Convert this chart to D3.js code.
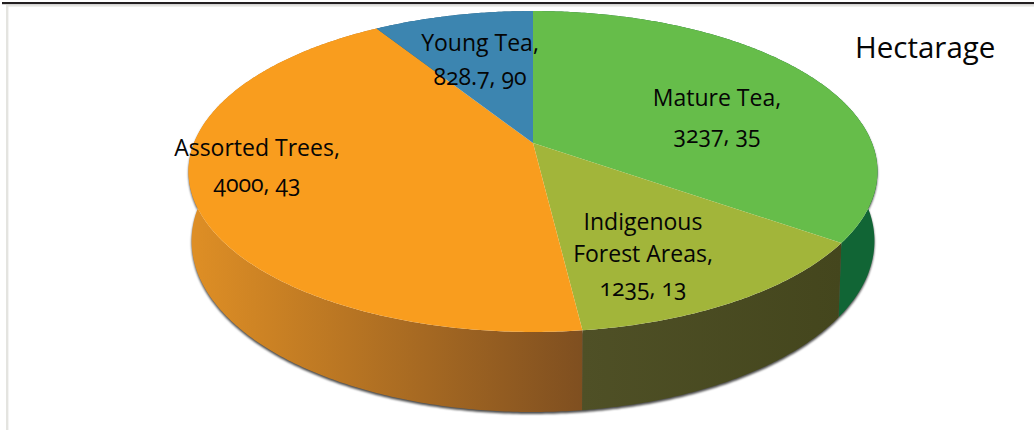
<!DOCTYPE html>
<html>
<head>
<meta charset="utf-8">
<script src="https://cdn.jsdelivr.net/npm/d3@7"></script>
<style>
  html, body { margin: 0; padding: 0; background: #fff; }
  text { font-family: "Open Sans", "Noto Sans", sans-serif; fill: #050505; font-feature-settings: "onum"; }
</style>
</head>
<body>
<div id="chart"></div>
<script>
// values as printed on the slices (the 90 on Young Tea is what the picture says)
const categories = ["Mature Tea", "Indigenous Forest Areas", "Assorted Trees", "Young Tea"];
const hectares = [3237, 1235, 4000, 828.7];
const printedPercents = [35, 13, 43, 90];
const title = "Hectarage";

const topColors = ["#66bd4a", "#a2b53a", "#f99d1e", "#3c85b0"];
const wallLeftColors = ["#116535", "#4f5026", "#df8f25", "#2a5f80"];
const wallRightColors = ["#116535", "#44461d", "#7f4f20", "#2a5f80"];

const width = 1034, height = 430;

const svg = d3.select("#chart").append("svg")
    .attr("width", width)
    .attr("height", height)
    .style("display", "block");

// frame left over from the original slide
svg.append("rect").attr("x", 2).attr("y", 2).attr("width", width - 2).attr("height", 2.2).attr("fill", "#231f20");
svg.append("rect").attr("x", 6).attr("y", 5).attr("width", width - 6).attr("height", 1.6).attr("fill", "#e4e4e0");
svg.append("rect").attr("x", 6).attr("y", 5).attr("width", 2.4).attr("height", height - 5).attr("fill", "#e4e4e0");

// 1) Scales: top disc and the disc at the foot of the wall
const perspective = 0.1776;
const topX = d3.scaleLinear().domain([-1, 1]).range([194, 872]);
const topY = d3.scaleLinear().domain([-1, 1]).range([298.4, -12.4]);
const footX = d3.scaleLinear().domain([-1, 1]).range([197, 869]);
const footY = d3.scaleLinear().domain([-1, 1]).range([376.2, 44.8]);

const color = d3.scaleOrdinal().domain(categories).range(topColors);

// angle is clockwise from 12 o'clock, far side of the disc is tilted away
function project(angle, r, sx, sy) {
    const u = Math.sin(angle) * r;
    const v = Math.cos(angle) * r;
    const w = 1 + perspective * v;
    return [sx(u / w), sy(v / w)];
}

const pie = d3.pie().sort(null).value(d => d.value);
const slices = pie(categories.map((name, i) => ({ name, value: hectares[i], index: i })));

function rimAngles(d) {
    const n = Math.max(2, Math.ceil((d.endAngle - d.startAngle) / 0.01));
    return d3.range(n + 1).map(i => d.startAngle + (d.endAngle - d.startAngle) * i / n);
}

const line = d3.line();

// 2) Gradients for the wall shading
const defs = svg.append("defs");
slices.forEach(d => {
    const grad = defs.append("linearGradient").attr("id", "wall-" + d.data.index);
    grad.append("stop").attr("offset", "0%").attr("stop-color", wallLeftColors[d.data.index]);
    grad.append("stop").attr("offset", "100%").attr("stop-color", wallRightColors[d.data.index]);
});

// 3) Walls, with a thin shadow round the foot
const walls = svg.append("g")
    .style("filter", "drop-shadow(0px 2px 1.2px rgba(0,0,0,0.7))");

walls.selectAll("path")
    .data(slices)
    .enter()
    .append("path")
    .attr("fill", d => `url(#wall-${d.data.index})`)
    .attr("d", d => {
        const angles = rimAngles(d);
        const upper = angles.map(a => project(a, 1, topX, topY));
        const lower = angles.slice().reverse().map(a => project(a, 1, footX, footY));
        return line(upper.concat(lower)) + "Z";
    });

// 4) Top face
svg.append("g").selectAll("path")
    .data(slices)
    .enter()
    .append("path")
    .attr("fill", d => color(d.data.name))
    .attr("d", d => {
        const rim = rimAngles(d).map(a => project(a, 1, topX, topY));
        return line([project(0, 0, topX, topY)].concat(rim)) + "Z";
    });

// 5) Labels
const labelLines = [
    ["Mature Tea,", `${hectares[0]}, ${printedPercents[0]}`],
    ["Indigenous", "Forest Areas,", `${hectares[1]}, ${printedPercents[1]}`],
    ["Assorted Trees,", `${hectares[2]}, ${printedPercents[2]}`],
    ["Young Tea,", `${hectares[3]}, ${printedPercents[3]}`]
];
const labelAnchors = [
    { x: 717, baselines: [106, 143] },
    { x: 643, baselines: [230, 262, 296] },
    { x: 257, baselines: [156, 192] },
    { x: 480, baselines: [51, 85] }
];

const labels = svg.append("g").attr("text-anchor", "middle").style("font-size", "23px");
labelLines.forEach((lines, i) => {
    lines.forEach((txt, j) => {
        labels.append("text")
            .attr("x", labelAnchors[i].x)
            .attr("y", labelAnchors[i].baselines[j])
            .text(txt);
    });
});

svg.append("text")
    .attr("x", 855)
    .attr("y", 58)
    .style("font-size", "29.5px")
    .text(title);
</script>
</body>
</html>
